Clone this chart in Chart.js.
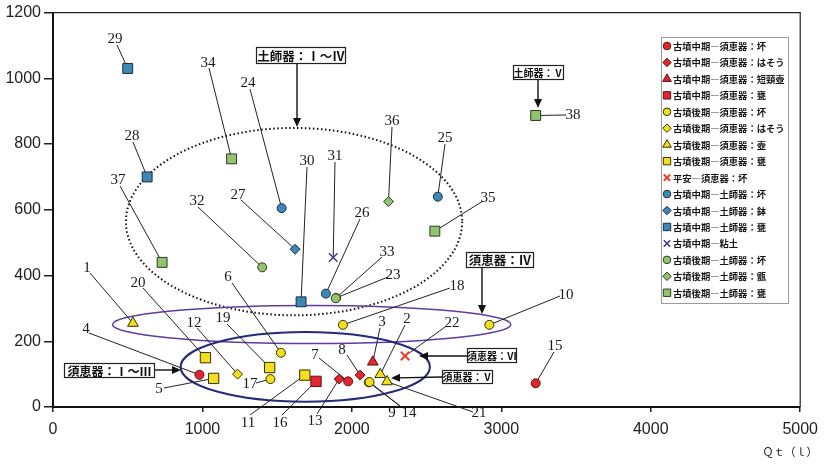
<!DOCTYPE html>
<html>
<head>
<meta charset="utf-8">
<script src="https://cdn.jsdelivr.net/npm/chart.js@4/dist/chart.umd.min.js"></script>
<style>
  html, body { margin: 0; padding: 0; background: #fff; }
  canvas { display: block; }
</style>
</head>
<body>
<canvas id="c" width="826" height="465"></canvas>
<script>
// ---- Legend series ----
const seriesNames = [
  '古墳中期―須恵器：坏',
  '古墳中期―須恵器：はそう',
  '古墳中期―須恵器：短頸壺',
  '古墳中期―須恵器：甕',
  '古墳後期―須恵器：坏',
  '古墳後期―須恵器：はそう',
  '古墳後期―須恵器：壺',
  '古墳後期―須恵器：甕',
  '平安―須恵器：坏',
  '古墳中期―土師器：坏',
  '古墳中期―土師器：鉢',
  '古墳中期―土師器：甕',
  '古墳中期―粘土',
  '古墳後期―土師器：坏',
  '古墳後期―土師器：甑',
  '古墳後期―土師器：甕'
];

// ---- Samples: number, Qt (x), vertical value (y), series index ----
const sampleNo = [1, 2, 3, 4, 5, 6, 7, 8, 9, 10, 11, 12, 13, 14, 15, 16, 17, 18, 19,
                  20, 21, 22, 23, 24, 25, 26, 27, 28, 29, 30, 31, 32, 33, 34, 35, 36, 37, 38];
const qtValues = [535, 2190, 2140, 980, 1075, 1525, 1975, 2055, 2113, 2920, 1685, 1235, 1915,
                  2118, 3230, 1760, 1455, 1940, 1450, 1020, 2235, 2356, 1895, 1530, 2575, 1826,
                  1620, 630, 500, 1660, 1875, 1400, 1892, 1195, 2555, 2245, 730, 3230];
const yValues  = [255, 99, 137, 98, 87, 165, 78, 97, 75, 250, 97, 100, 85,
                  76, 72, 78, 85, 250, 120, 150, 77, 155, 332, 605, 640, 345,
                  480, 700, 1030, 320, 455, 425, 331, 755, 535, 625, 440, 887];
const seriesOf = [6, 6, 2, 0, 7, 4, 0, 1, 4, 4, 7, 5, 1,
                  4, 0, 3, 4, 4, 7, 7, 6, 8, 13, 9, 9, 9,
                  10, 11, 11, 11, 12, 13, 13, 15, 15, 14, 15, 15];

// ---- Axis ticks ----
const xTicks = [0, 1000, 2000, 3000, 4000, 5000];
const yTicks = [0, 200, 400, 600, 800, 1000, 1200];

// ---- Marker styles per series ----
const RED = '#e3262e', YEL = '#f3df1f', BLU = '#3d88b4', GRN = '#92c46e';
const seriesStyle = [
  { shape: 'circle',   fill: RED, edge: '#5e1212', r: 4.5 },
  { shape: 'rectRot',  fill: RED, edge: '#5e1212', r: 5 },
  { shape: 'triangle', fill: RED, edge: '#5e1212', r: 6.2 },
  { shape: 'rect',     fill: RED, edge: '#5e1212', r: 7.3 },
  { shape: 'circle',   fill: YEL, edge: '#333300', r: 4.5 },
  { shape: 'rectRot',  fill: YEL, edge: '#333300', r: 5 },
  { shape: 'triangle', fill: YEL, edge: '#333300', r: 6.2 },
  { shape: 'rect',     fill: YEL, edge: '#333300', r: 7.3 },
  { shape: 'crossRot', fill: '#e8402a', edge: '#e8402a', r: 6, w: 2 },
  { shape: 'circle',   fill: BLU, edge: '#1d2b44', r: 4.5 },
  { shape: 'rectRot',  fill: BLU, edge: '#1d2b44', r: 5 },
  { shape: 'rect',     fill: BLU, edge: '#1d2b44', r: 7 },
  { shape: 'crossRot', fill: '#4b3b8f', edge: '#4b3b8f', r: 6, w: 1.6 },
  { shape: 'circle',   fill: GRN, edge: '#2f3a22', r: 4.5 },
  { shape: 'rectRot',  fill: GRN, edge: '#2f3a22', r: 5 },
  { shape: 'rect',     fill: GRN, edge: '#2f3a22', r: 7 }
];

// ---- Number labels: [label x, label y, leader start x, leader start y] (pixels) ----
const labelLayout = {
  1: [87, 268, 90, 273],   2: [407, 319, 405, 325],  3: [382, 322, 380, 328],
  4: [86, 329, 89, 333],   5: [159, 389, 164, 388],  6: [228, 277, 232, 283],
  7: [315, 355, 319, 358], 8: [342, 350, 347, 355],  9: [392, 413, 400, 406],
  10: [566, 295, 560, 296], 11: [248, 423, 250, 415], 12: [194, 323, 197, 328],
  13: [315, 421, 317, 414], 14: [409, 413, 400, 406], 15: [555, 346, 554, 352],
  16: [280, 423, 282, 415], 17: [250, 384, 256, 383], 18: [457, 286, 450, 288],
  19: [223, 318, 227, 324], 20: [138, 283, 143, 288], 21: [479, 413, 473, 412],
  22: [452, 323, 445, 327], 23: [393, 275, 388, 277], 24: [248, 83, 250, 89],
  25: [445, 138, 445, 144], 26: [362, 213, 360, 219], 27: [238, 195, 241, 200],
  28: [132, 136, 133, 142], 29: [115, 39, 117, 45],   30: [307, 161, 307, 167],
  31: [335, 156, 335, 162], 32: [197, 201, 198, 207], 33: [387, 252, 382, 257],
  34: [208, 63, 209, 68],   35: [488, 198, 483, 201], 36: [392, 121, 392, 127],
  37: [118, 180, 120, 186], 38: [573, 115, 566, 115]
};

// ---- Group outlines (in data units) ----
const groupOutlines = [
  { cx: 1613, cy: 564, rx: 1125, ry: 285, color: '#111', width: 2, dash: [1.5, 2.5] },
  { cx: 1731, cy: 251, rx: 1333, ry: 58,  color: '#5b3f9e', width: 1.5, dash: [] },
  { cx: 1688, cy: 122, rx: 834,  ry: 106, color: '#262a78', width: 2, dash: [] }
];

// ---- Callout boxes with arrows (pixels) ----
const callouts = [
  { text: '土師器：Ⅰ～Ⅳ', box: [256, 47, 346, 64],  size: 12.5, arrow: [297, 64, 297, 127] },
  { text: '土師器：Ⅴ',     box: [513, 65, 564, 80],  size: 10,   arrow: [538, 80, 538, 108] },
  { text: '須恵器：Ⅳ',     box: [466, 252, 534, 268], size: 12.5, arrow: [482, 268, 482, 314] },
  { text: '須恵器：Ⅵ',     box: [467, 348, 517, 363], size: 10,   arrow: [467, 356, 419, 356] },
  { text: '須恵器：Ⅴ',     box: [442, 370, 493, 384], size: 10,   arrow: [442, 377, 391, 378] },
  { text: '須恵器：Ⅰ～Ⅲ', box: [64, 363, 155, 378],  size: 12,   arrow: [155, 370, 181, 370] }
];

// ---- Build datasets from the arrays ----
const datasets = seriesNames.map((name, s) => {
  const st = seriesStyle[s];
  const pts = [];
  sampleNo.forEach((n, i) => {
    if (seriesOf[i] === s) pts.push({ x: qtValues[i], y: yValues[i], no: n });
  });
  return {
    label: name,
    data: pts,
    pointStyle: st.shape,
    pointRadius: st.r,
    pointBackgroundColor: st.fill,
    pointBorderColor: st.edge,
    pointBorderWidth: st.w || 1,
    showLine: false
  };
});

const GOTHIC = '"Noto Sans CJK JP", "Noto Sans", sans-serif';

function arrow(ctx, x1, y1, x2, y2) {
  const ang = Math.atan2(y2 - y1, x2 - x1);
  const hl = 9, hw = 4;
  ctx.beginPath();
  ctx.moveTo(x1, y1);
  ctx.lineTo(x2 - Math.cos(ang) * hl * 0.8, y2 - Math.sin(ang) * hl * 0.8);
  ctx.stroke();
  ctx.beginPath();
  ctx.moveTo(x2, y2);
  ctx.lineTo(x2 - Math.cos(ang) * hl - Math.sin(ang) * hw, y2 - Math.sin(ang) * hl + Math.cos(ang) * hw);
  ctx.lineTo(x2 - Math.cos(ang) * hl + Math.sin(ang) * hw, y2 - Math.sin(ang) * hl - Math.cos(ang) * hw);
  ctx.closePath();
  ctx.fill();
}

const overlay = {
  id: 'overlay',
  beforeDatasetsDraw(chart) {
    const { ctx, chartArea: a, scales: { x: xs, y: ys } } = chart;
    ctx.save();
    // frame top and right
    ctx.strokeStyle = '#222';
    ctx.lineWidth = 1.2;
    ctx.beginPath();
    ctx.moveTo(a.left, a.top);
    ctx.lineTo(a.right, a.top);
    ctx.lineTo(a.right, a.bottom);
    ctx.stroke();

    // group outlines
    groupOutlines.forEach(e => {
      const cx = xs.getPixelForValue(e.cx), cy = ys.getPixelForValue(e.cy);
      const rx = Math.abs(xs.getPixelForValue(e.cx + e.rx) - cx);
      const ry = Math.abs(ys.getPixelForValue(e.cy + e.ry) - cy);
      ctx.beginPath();
      ctx.ellipse(cx, cy, rx, ry, 0, 0, Math.PI * 2);
      ctx.setLineDash(e.dash);
      ctx.lineWidth = e.width;
      ctx.strokeStyle = e.color;
      ctx.stroke();
    });
    ctx.setLineDash([]);

    // leader lines and sample numbers
    ctx.strokeStyle = '#222';
    ctx.lineWidth = 1;
    ctx.fillStyle = '#1a1a1a';
    ctx.font = '15px "Liberation Serif", "DejaVu Serif", serif';
    ctx.textAlign = 'center';
    ctx.textBaseline = 'middle';
    chart.data.datasets.forEach((ds, di) => {
      const meta = chart.getDatasetMeta(di);
      ds.data.forEach((p, j) => {
        const el = meta.data[j];
        const L = labelLayout[p.no];
        if (!L) return;
        ctx.beginPath();
        ctx.moveTo(L[2], L[3]);
        ctx.lineTo(el.x, el.y);
        ctx.stroke();
        ctx.fillText(String(p.no), L[0], L[1]);
      });
    });
    ctx.restore();
  },
  afterDatasetsDraw(chart) {
    const ctx = chart.ctx;
    ctx.save();
    // callouts
    callouts.forEach(c => {
      const [x1, y1, x2, y2] = c.box;
      ctx.strokeStyle = '#111';
      ctx.fillStyle = '#111';
      ctx.lineWidth = 1.4;
      arrow(ctx, c.arrow[0], c.arrow[1], c.arrow[2], c.arrow[3]);
      ctx.fillStyle = '#fff';
      ctx.fillRect(x1, y1, x2 - x1, y2 - y1);
      ctx.lineWidth = 1.2;
      ctx.strokeStyle = '#222';
      ctx.strokeRect(x1 + 0.5, y1 + 0.5, x2 - x1 - 1, y2 - y1 - 1);
      ctx.fillStyle = '#111';
      ctx.font = 'bold ' + c.size + 'px ' + GOTHIC;
      ctx.textAlign = 'center';
      ctx.textBaseline = 'middle';
      ctx.fillText(c.text, (x1 + x2) / 2, (y1 + y2) / 2 + 0.5);
    });

    // legend
    const lx = 661, ly = 37, lw = 127, lh = 266;
    ctx.fillStyle = '#fff';
    ctx.fillRect(lx, ly, lw, lh);
    ctx.strokeStyle = '#9a9a9a';
    ctx.lineWidth = 1;
    ctx.strokeRect(lx + 0.5, ly + 0.5, lw, lh);
    ctx.font = 'bold 9.3px ' + GOTHIC;
    ctx.textAlign = 'left';
    ctx.textBaseline = 'middle';
    chart.data.datasets.forEach((ds, i) => {
      const y = 46 + i * 16.45;
      const st = seriesStyle[i];
      ctx.fillStyle = st.fill;
      ctx.strokeStyle = st.edge;
      ctx.lineWidth = st.w || 1;
      const rad = { circle: 3.8, rectRot: 4.2, triangle: 5, rect: 5.2, crossRot: 4.5 }[st.shape];
      Chart.helpers.drawPoint(ctx, {
        pointStyle: st.shape, radius: rad, rotation: 0, borderWidth: st.w || 1
      }, 667, y);
      ctx.fillStyle = '#161616';
      ctx.fillText(ds.label, 673, y + 0.5);
    });

    // x-axis title
    ctx.fillStyle = '#222';
    ctx.font = '11px ' + GOTHIC;
    ctx.textAlign = 'center';
    ctx.fillText('Ｑｔ（ｌ）', 790, 452);
    ctx.restore();
  }
};

const tickFont = { family: '"Liberation Sans", Arial, sans-serif', size: 16 };

new Chart(document.getElementById('c'), {
  type: 'scatter',
  data: { datasets },
  options: {
    responsive: false,
    animation: false,
    events: [],
    layout: { padding: { top: 10, right: 19, left: 0, bottom: 0 } },
    plugins: { legend: { display: false }, tooltip: { enabled: false } },
    scales: {
      x: {
        type: 'linear', min: xTicks[0], max: xTicks[xTicks.length - 1],
        afterBuildTicks: s => { s.ticks = xTicks.map(v => ({ value: v })); },
        afterFit: s => { s.height = 58; },
        ticks: { color: '#222', padding: 8, font: tickFont, callback: v => String(v) },
        grid: { drawOnChartArea: false, drawTicks: true, tickLength: 5, color: '#222', lineWidth: 1.5 },
        border: { color: '#111', width: 2 }
      },
      y: {
        type: 'linear', min: yTicks[0], max: yTicks[yTicks.length - 1],
        afterBuildTicks: s => { s.ticks = yTicks.map(v => ({ value: v })); },
        afterFit: s => { s.width = 53; },
        ticks: { color: '#222', padding: 3, font: tickFont, callback: v => String(v) },
        grid: { drawOnChartArea: false, drawTicks: true, tickLength: 9, color: '#222', lineWidth: 1.5 },
        border: { color: '#111', width: 2 }
      }
    }
  },
  plugins: [overlay]
});
</script>
</body>
</html>
